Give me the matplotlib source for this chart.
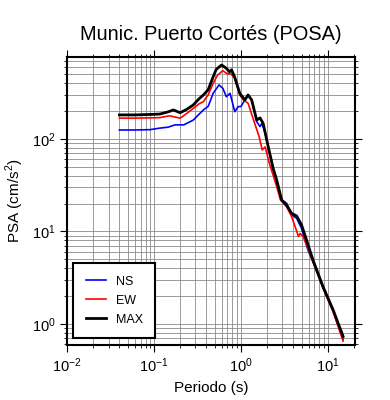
import matplotlib.pyplot as plt
import numpy as np
from matplotlib.ticker import LogLocator, NullFormatter

plt.rcParams['font.family'] = ['Liberation Sans', 'DejaVu Sans']
plt.rcParams['mathtext.fontset'] = 'custom'
plt.rcParams['mathtext.rm'] = 'Liberation Sans'

# Periodos (s) y PSA (cm/s2)
t_max = [0.04, 0.06, 0.09, 0.117, 0.145, 0.167, 0.20, 0.24, 0.283, 0.33, 0.37, 0.42, 0.48, 0.52,
         0.60, 0.68, 0.74, 0.78, 0.85, 0.97, 1.11, 1.21, 1.33, 1.52, 1.66, 1.80, 2.06, 2.35,
         2.58, 2.94, 3.35, 3.83, 4.37, 4.98, 5.68, 6.75, 8.8, 11.5, 15.0]
psa_max = [182, 182, 184, 186, 196, 206, 192, 210, 233, 272, 299, 340, 471, 566,
           631, 581, 533, 560, 464, 312, 264, 299, 264, 160, 169, 148, 83, 48,
           36, 21.9, 19.3, 15.7, 14.7, 11.8, 8.1, 4.9, 2.53, 1.42, 0.73]

t_ew = [0.04, 0.06, 0.09, 0.117, 0.15, 0.20, 0.24, 0.283, 0.33, 0.37, 0.42, 0.48, 0.54,
        0.62, 0.70, 0.76, 0.85, 0.97, 1.07, 1.21, 1.40, 1.62, 1.76, 1.90, 2.12, 2.58,
        2.85, 3.35, 3.83, 4.6, 4.8, 5.2, 5.9, 6.75, 8.8, 11.5, 15.0]
psa_ew = [168, 168, 169, 170, 178, 168, 190, 214, 240, 253, 300, 400, 492,
          547, 505, 510, 453, 299, 264, 243, 160, 106, 76, 82, 55, 30.6,
          21.9, 18.5, 14.5, 8.8, 9.5, 8.8, 6.6, 4.7, 2.45, 1.35, 0.65]

t_ns = [0.04, 0.06, 0.09, 0.117, 0.145, 0.175, 0.22, 0.283, 0.37, 0.42, 0.48, 0.56,
        0.62, 0.68, 0.75, 0.85, 0.93, 1.0, 1.11, 1.21, 1.33, 1.52, 1.66, 1.74, 1.86,
        2.06, 2.35, 2.58, 2.94, 3.35, 3.83, 4.37, 4.98, 5.9, 6.75, 8.8, 11.5, 15.0]
psa_ns = [125, 125, 126, 131, 134, 142, 142, 160, 206, 225, 312, 384,
          353, 286, 312, 197, 224, 224, 264, 299, 264, 154, 136, 147, 125,
          83, 48, 36, 21.9, 20.2, 15.1, 13.9, 10.8, 6.3, 4.7, 2.45, 1.38, 0.68]

fig = plt.figure(figsize=(3.9, 4.0), dpi=100)
ax = fig.add_axes([0.172, 0.1375, 0.738, 0.72])

ax.plot(t_ns, psa_ns, color='#0000ff', lw=1.2, label='NS')
ax.plot(t_ew, psa_ew, color='#ff0000', lw=1.2, label='EW')
ax.plot(t_max, psa_max, color='black', lw=2.0, label='MAX')

ax.set_xscale('log')
ax.set_yscale('log')
ax.set_xlim(0.01, 20.5)
ax.set_ylim(0.59, 770)

ax.xaxis.set_major_locator(LogLocator(base=10, numticks=10))
ax.xaxis.set_minor_locator(LogLocator(base=10, subs=np.arange(2, 10), numticks=20))
ax.yaxis.set_major_locator(LogLocator(base=10, numticks=10))
ax.yaxis.set_minor_locator(LogLocator(base=10, subs=np.arange(2, 10), numticks=20))
ax.xaxis.set_minor_formatter(NullFormatter())
ax.yaxis.set_minor_formatter(NullFormatter())

ax.grid(True, which='both', color='#8a8a8a', lw=0.6)
ax.set_axisbelow(True)
ax.tick_params(which='both', direction='out', top=True, right=True, labelsize=10.5)
ax.tick_params(which='major', length=5)
ax.tick_params(which='minor', length=2.5)
for s in ax.spines.values():
    s.set_linewidth(1.5)

ax.set_xlabel('Periodo (s)', fontsize=11)
ax.set_ylabel('PSA (cm/s$^2$)', fontsize=11)
ax.set_title('Munic. Puerto Cortés (POSA)', fontsize=14.4, pad=12)

leg = ax.legend(loc='lower left', fontsize=9, handlelength=1.6, borderpad=1.0,
                labelspacing=0.55, fancybox=False, framealpha=1, edgecolor='black',
                bbox_to_anchor=(0.021, 0.024), borderaxespad=0)
leg.get_frame().set_linewidth(1.5)

fig.savefig('out.png', dpi=100)
